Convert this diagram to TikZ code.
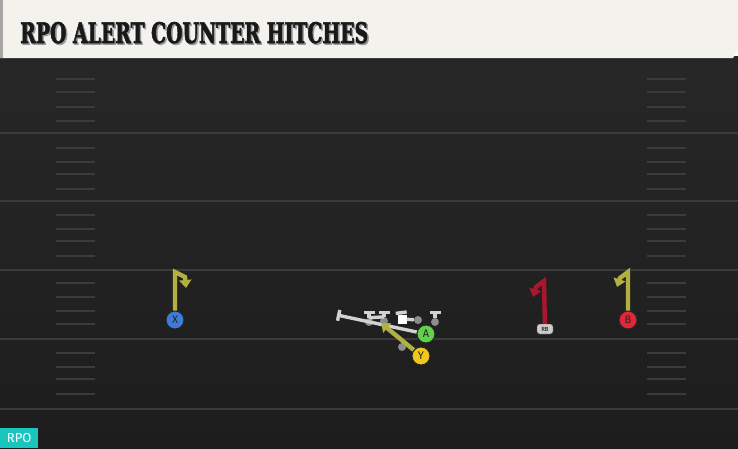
\documentclass[tikz,border=0pt]{standalone}
\usepackage{fontspec}
\newfontfamily\titlefont[BoldFeatures={FakeBold=2.5}]{DejaVu Serif}
\newfontfamily\labelfont{Fira Sans}
\usetikzlibrary{positioning}
\usetikzlibrary{arrows.meta}

\definecolor{fieldtop}{HTML}{272727}
\definecolor{fieldbot}{HTML}{1D1D1D}
\definecolor{yardgray}{HTML}{3A3A3A}
\definecolor{hashgray}{HTML}{3B3B3B}
\definecolor{headcream}{HTML}{F4F2EC}
\definecolor{olive}{HTML}{B2B043}
\definecolor{crimson}{HTML}{A8172F}
\definecolor{xblue}{HTML}{3F7BD8}
\definecolor{bred}{HTML}{E3263A}
\definecolor{ayellow}{HTML}{F2C71C}
\definecolor{agreen}{HTML}{62D04B}
\definecolor{blockgray}{HTML}{D2D2D2}
\definecolor{dotgray}{HTML}{8C8C8C}
\definecolor{rpoteal}{HTML}{19C6BE}

\tikzset{
  player/.style={circle,draw=black!85,line width=1pt,minimum size=18pt,inner sep=0pt,
    font=\labelfont\fontsize{11}{11}\selectfont,text=black!85},
  route/.style={line width=4.4pt,line join=miter,-{Triangle[length=8pt,width=12pt]}},
  block/.style={draw=blockgray,line width=3.4pt,-{Bar[width=11pt,line width=3.4pt]}},
  lineman/.style={circle,fill=dotgray,minimum size=8pt,inner sep=0pt},
  yardline/.style={draw=yardgray,line width=2pt},
  hashmark/.style={draw=hashgray,line width=1.6pt}
}

\begin{document}
\begin{tikzpicture}[x=1pt,y=-1pt]
\useasboundingbox (0,0) rectangle (738,448);
% field
\shade[top color=fieldtop,bottom color=fieldbot] (0,58) rectangle (738,448);
\foreach \y in {133,201,270,339,409} {
  \draw[yardline] (0,\y) -- (738,\y);
}
\foreach \y in {79,92,107,121,148,162,174,189,215,229,241,256,283,297,311,324,353,367,379,394} {
  \draw[hashmark] (56,\y) -- (95,\y);
  \draw[hashmark] (647,\y) -- (686,\y);
}
% header
\fill[black!85] (0,56) rectangle (738,63);
\fill[headcream] (0,0) -- (738,0) -- (738,50) -- (733,58) -- (0,58) -- cycle;
\fill[black!35] (0,0) rectangle (3,58);
\node[anchor=base west,inner sep=0pt,text=black!40] at (21.5,44.5)
  {\resizebox{348pt}{21pt}{\titlefont\bfseries RPO ALERT COUNTER HITCHES}};
\node (title) [anchor=base west,inner sep=0pt,text=black!90] at (20,43)
  {\resizebox{348pt}{21pt}{\titlefont\bfseries RPO ALERT COUNTER HITCHES}};
% tag
\node (tag) [fill=rpoteal,text=white,anchor=south west,minimum width=38pt,minimum height=20pt,
  inner sep=0pt,font=\labelfont\fontsize{13}{13}\selectfont] at (0,448) {RPO};

% line
\node (lt) [lineman] at (369,322) {};
\node (lg) [lineman] at (384,321) {};
\node (c) [fill=white,minimum size=9pt,inner sep=0pt] at (402,319) {};
\node (rg) [lineman] at (418,320) {};
\node (rt) [lineman] at (435,322) {};
\node (qb) [lineman] at (402,347) {};
\coordinate (lttop) at (369,311);
\coordinate (lgtop) at (384,311);
\coordinate (ctop) at (401,311);
\coordinate (rttop) at (435,311);
\coordinate (kick) at (337,315);
\draw[block] (lt) -- (lttop);
\draw[block] (lg) -- (lgtop);
\draw[block] (c) -- (ctop);
\draw[block] (rt) -- (rttop);
\draw[draw=blockgray,line width=3.4pt] (lt.north) -- (lg.north);
\draw[draw=blockgray,line width=3.4pt] (c) -- (rg);

% players
\node (A) [player,fill=agreen] at (426,334) {A};
\node (Y) [player,fill=ayellow] at (421,356) {Y};
\node (X) [player,fill=xblue] at (175,320) {X};
\node (B) [player,fill=bred] at (628,320) {B};
\node (RB) [fill=black!20,draw=black!75,rounded corners=2.5pt,minimum width=16pt,minimum height=10pt,
  inner sep=0pt,font=\labelfont\fontsize{6}{6}\selectfont] at (545,329) {RB};

\draw[block] (A) -- (kick);
\coordinate (yend) at (381,323);
\draw[route,olive] (Y) -- (yend);

% hitches
\coordinate (xtop) at (175,272);
\coordinate (xturn) at (185,277);
\coordinate (xend) at (186,288);
\draw[route,olive] (X) -- (xtop) -- (xturn) -- (xend);
\coordinate (btop) at (628,272);
\coordinate (bturn) at (620,278);
\coordinate (bend) at (617,287);
\draw[route,olive] (B) -- (btop) -- (bturn) -- (bend);
\coordinate (rbtop) at (544,281);
\coordinate (rbturn) at (536,287);
\coordinate (rbend) at (533,297);
\draw[route,crimson] (RB) -- (rbtop) -- (rbturn) -- (rbend);
\end{tikzpicture}
\end{document}
